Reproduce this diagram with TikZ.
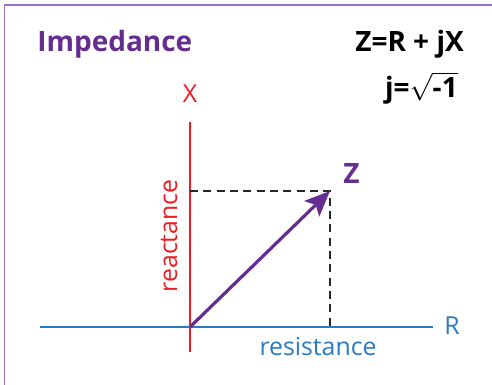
\documentclass[tikz,border=0pt]{standalone}
\usepackage{fontspec}
\setmainfont{Open Sans}
\usetikzlibrary{arrows.meta}
\definecolor{frame}{HTML}{9B6FC8}
\definecolor{imp}{HTML}{662D91}
\definecolor{axred}{HTML}{ED1C24}
\definecolor{axblue}{HTML}{2A7ABF}
\tikzset{
  px/.style={x=0.75pt,y=-0.75pt},
  title/.style={font=\fontsize{21}{24}\selectfont\bfseries, inner sep=0pt},
  lab/.style={font=\fontsize{18.6}{22}\selectfont, inner sep=0pt},
  guide/.style={black!85, dash pattern=on 6pt off 4pt, line width=1.5pt},
}
\begin{document}
\begin{tikzpicture}[px]
\useasboundingbox (0,0) rectangle (492,385);
\draw[frame, line width=1.2pt] (4.5,385) -- (4.5,5) -- (492,5);
% titles
\node[title, text=imp, anchor=base west] (imp) at (37,52) {Impedance};
\node[title, anchor=base east] (eq) at (464,52) {Z=R + jX};
\node[title, anchor=base east] (jdef) at (458,98) {j=\smash{$\sqrt{\textbf{-1}}$}};
% axes
\coordinate (o) at (190,327);
\coordinate (ytop) at (190,122);
\coordinate (ybot) at (190,352);
\coordinate (xl) at (40,327);
\coordinate (xr) at (433,327);
\coordinate (zp) at (330,191);
\coordinate (zx) at (330,327);
\coordinate (zy) at (190,191);
\draw[axred, line width=1.5pt] (ybot) -- (ytop);
\draw[axblue, line width=1.8pt] (xl) -- (xr);
\node[lab, text=axred, anchor=base] (xlab) at (190,103) {X};
\node[lab, text=axblue, anchor=base west] (rlab) at (444,334) {R};
\node[lab, text=axred, rotate=90, anchor=base] (react) at (177,236) {reactance};
\node[lab, text=axblue, anchor=base] (resist) at (318,355) {resistance};
\draw[guide] (zy) -- (zp) -- (zx);
\draw[imp, line width=2.4pt, -{Stealth[length=19pt,width=16pt,inset=4pt]}] (o) -- (zp);
\node[title, text=imp, anchor=base west] (zlab) at (343,183) {Z};
\end{tikzpicture}
\end{document}
